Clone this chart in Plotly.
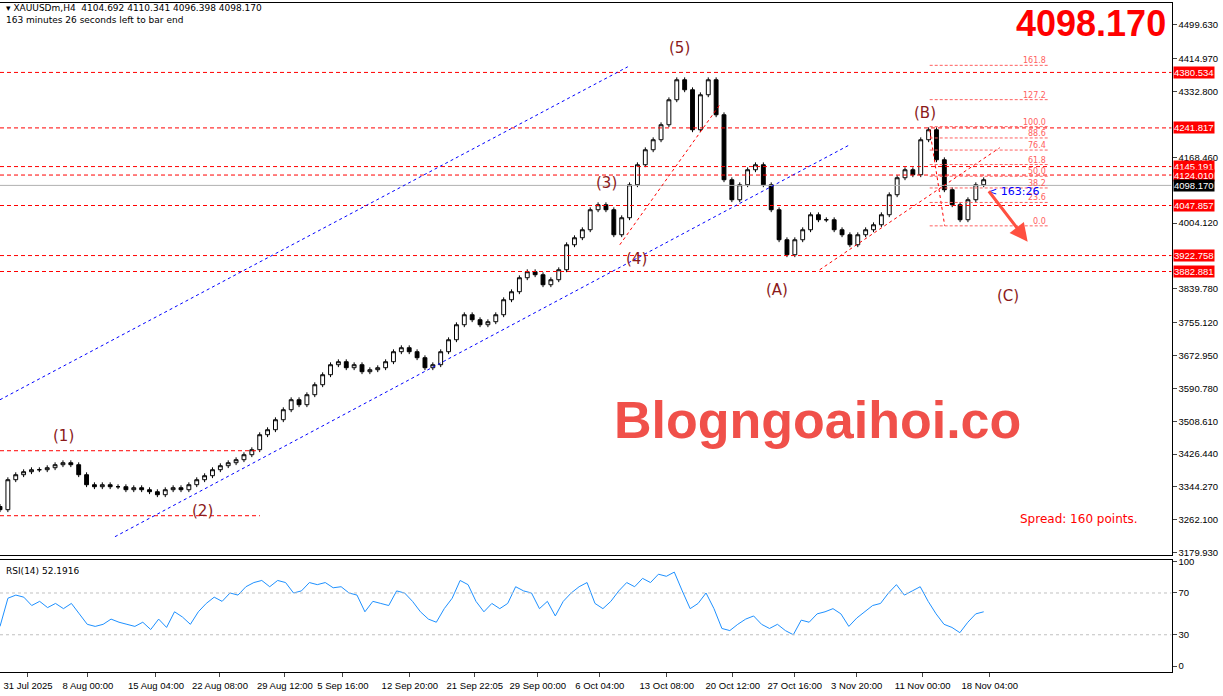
import plotly.graph_objects as go

# price path (close values)
closes_px_y = [510,480,475,472,470,470,468,465,463,465,475,485,487,485,487,487,490,488,490,492,495,490,488,490,485,480,476,470,466,463,460,455,450,435,430,420,410,400,405,395,385,375,365,362,368,365,372,370,368,362,352,348,352,358,368,365,352,340,325,315,320,325,322,315,300,292,278,272,275,285,280,270,245,238,230,210,205,210,235,218,185,165,150,140,125,100,80,90,130,95,80,115,180,200,185,170,165,185,210,240,255,240,230,215,220,220,230,235,245,235,230,225,215,195,178,170,175,140,130,160,190,205,220,200,185,180]
rsi = [38,65,68,66,58,62,56,60,55,60,50,40,38,40,45,42,40,38,42,35,45,37,52,47,40,52,60,66,62,70,68,76,80,82,76,82,80,70,72,80,78,80,75,76,70,68,52,62,60,58,72,70,62,52,45,42,55,65,82,78,62,52,60,55,60,76,72,70,55,62,48,62,70,76,80,60,55,62,72,80,76,84,80,88,86,90,72,55,60,70,55,36,34,40,45,48,40,36,40,34,30,44,42,50,52,55,50,38,46,52,58,60,70,78,68,72,76,62,50,40,37,32,42,50,52]
date_labels = ["31 Jul 2025","8 Aug 00:00","15 Aug 04:00","22 Aug 08:00","29 Aug 12:00","5 Sep 16:00","12 Sep 20:00","21 Sep 22:05","29 Sep 00:00","6 Oct 04:00","13 Oct 08:00","20 Oct 12:00","27 Oct 16:00","3 Nov 20:00","11 Nov 00:00","18 Nov 04:00"]
date_pos = [28,88,156,220,285,343,410,475,538,600,667,733,795,857,923,990]
level_lines = [4380.534,4241.817,4145.191,4124.010,4047.857,3922.758,3882.881]
current_price = 4098.170
price_ticks = [4499.630,4414.970,4332.800,4168.460,4004.120,3839.780,3755.120,3672.950,3590.780,3508.610,3426.440,3344.270,3262.100,3179.930]
fib_levels = [0.0,23.6,38.2,50.0,61.8,76.4,88.6,100.0,127.2,161.8]
fib_low, fib_high = 3997.0, 4245.0
waves = [("(1)",64,436),("(2)",203,511),("(3)",607,183),("(4)",637,259),("(5)",680,48),("(A)",777,290),("(B)",925,113),("(C)",1008,296)]

def p(y):
    return 4499.63 - (y - 25) * 2.4994

closes = [p(y) for y in closes_px_y]
n = len(closes)
xs = [i * 984 / (n - 1) for i in range(n)]
opens = [closes[0] + 8] + closes[:-1]
highs = [max(o, c) + 6 for o, c in zip(opens, closes)]
lows = [min(o, c) - 6 for o, c in zip(opens, closes)]
rx = [i * 984 / (len(rsi) - 1) for i in range(len(rsi))]

fig = go.Figure()
fig.add_trace(go.Candlestick(x=xs, open=opens, high=highs, low=lows, close=closes,
    increasing=dict(line=dict(color="black", width=1), fillcolor="white"),
    decreasing=dict(line=dict(color="black", width=1), fillcolor="black"),
    whiskerwidth=0, showlegend=False, xaxis="x", yaxis="y"))
fig.add_trace(go.Scatter(x=rx, y=rsi, mode="lines", line=dict(color="#1E90FF", width=1),
    showlegend=False, xaxis="x2", yaxis="y2"))

shapes = []
RED = "#FF0000"
DASH = "4px,3px"
for lv in level_lines:
    shapes.append(dict(type="line", xref="x", yref="y", x0=0, x1=1172, y0=lv, y1=lv,
                       line=dict(color=RED, width=1, dash=DASH)))
shapes.append(dict(type="line", xref="x", yref="y", x0=0, x1=1172, y0=current_price, y1=current_price,
                   line=dict(color="#B0B0B0", width=1)))
for y in (451, 516):
    shapes.append(dict(type="line", xref="x", yref="y", x0=0, x1=260, y0=p(y), y1=p(y),
                       line=dict(color=RED, width=1, dash=DASH)))
shapes.append(dict(type="line", xref="x", yref="y", x0=0, y0=p(400), x1=628, y1=p(67), line=dict(color="blue", width=1, dash="dot")))
shapes.append(dict(type="line", xref="x", yref="y", x0=115, y0=p(537), x1=850, y1=p(145), line=dict(color="blue", width=1, dash="dot")))
shapes.append(dict(type="line", xref="x", yref="y", x0=620, y0=p(245), x1=720, y1=p(105), line=dict(color=RED, width=1, dash="dot")))
shapes.append(dict(type="line", xref="x", yref="y", x0=820, y0=p(270), x1=1000, y1=p(148), line=dict(color=RED, width=1, dash="dot")))
shapes.append(dict(type="line", xref="x", yref="y", x0=930, y0=p(130), x1=945, y1=p(226), line=dict(color=RED, width=1, dash="dot")))
annotations = []
for f in fib_levels:
    v = fib_low + (fib_high - fib_low) * f / 100
    shapes.append(dict(type="line", xref="x", yref="y", x0=930, x1=1048, y0=v, y1=v,
                       line=dict(color="#FF6060", width=1, dash="3px,2px")))
    annotations.append(dict(x=1048, y=v, xref="x", yref="y", text="%.1f" % f, showarrow=False,
                            xanchor="right", yanchor="bottom", yshift=-2, font=dict(size=8, color="#FF6060", family="DejaVu Sans")))
for lv in (70, 30):
    shapes.append(dict(type="line", xref="x2", yref="y2", x0=0, x1=1172, y0=lv, y1=lv,
                       line=dict(color="#C0C0C0", width=1, dash="dot")))

for t, x, y in waves:
    annotations.append(dict(x=x, y=p(y), xref="x", yref="y", text=t, showarrow=False,
                            font=dict(size=15, color="#8B1A1A", family="DejaVu Sans")))
for lv in level_lines:
    annotations.append(dict(x=0.9595, y=lv, xref="paper", yref="y", text="%.3f" % lv, showarrow=False,
                            xanchor="left", bgcolor=RED, font=dict(size=9.5, color="white", family="Liberation Sans"), borderpad=0))
annotations.append(dict(x=0.9595, y=current_price, xref="paper", yref="y", text="%.3f" % current_price, showarrow=False,
                        xanchor="left", bgcolor="black", font=dict(size=9.5, color="white", family="Liberation Sans"), borderpad=0))
annotations += [
    dict(x=0.003, y=0.998, xref="paper", yref="paper", text="▾ XAUUSDm,H4  4104.692 4110.341 4096.398 4098.170<br>163 minutes 26 seconds left to bar end",
         showarrow=False, xanchor="left", yanchor="top", align="left", font=dict(size=9, color="black", family="DejaVu Sans")),
    dict(x=0.955, y=0.998, xref="paper", yref="paper", text="<b>4098.170</b>", showarrow=False, xanchor="right", yanchor="top",
         font=dict(size=36, color=RED, family="Liberation Sans")),
    dict(x=818, y=p(420), xref="x", yref="y", text="<b>Blogngoaihoi.co</b>", showarrow=False,
         font=dict(size=52, color="#F0504A", family="Liberation Sans")),
    dict(x=1140, y=p(519), xref="x", yref="y", text="Spread: 160 points.", showarrow=False, xanchor="right",
         font=dict(size=12, color=RED, family="DejaVu Sans")),
    dict(x=986, y=p(192), xref="x", yref="y", text="&lt; 163:26", showarrow=False, xanchor="left",
         font=dict(size=11, color="blue", family="DejaVu Sans")),
    dict(x=1028, y=p(242), ax=988, ay=p(190), xref="x", yref="y", axref="x", ayref="y", text="", showarrow=True,
         arrowhead=2, arrowsize=1.2, arrowwidth=3, arrowcolor="#FF5040"),
    dict(x=0.003, y=0.19, xref="paper", yref="paper", text="RSI(14) 52.1916", showarrow=False, xanchor="left", yanchor="top",
         font=dict(size=9, color="black", family="DejaVu Sans")),
]

tf = dict(size=9.5, family="Liberation Sans", color="black")
fig.update_layout(
    width=1223, height=696, margin=dict(l=0, r=0, t=0, b=0, autoexpand=False),
    plot_bgcolor="white", paper_bgcolor="white", shapes=shapes, annotations=annotations,
    xaxis=dict(domain=[0, 0.958], range=[0, 1172], showgrid=False, showticklabels=False, rangeslider=dict(visible=False),
               showline=True, mirror=True, linecolor="black", zeroline=False),
    yaxis=dict(domain=[0.203, 0.996], range=[p(555), p(3)], side="right", tickvals=price_ticks,
               ticktext=["%.3f" % v for v in price_ticks], ticks="outside", ticklen=4, showgrid=False,
               showline=True, mirror=True, linecolor="black", tickfont=tf),
    xaxis2=dict(domain=[0, 0.958], range=[0, 1172], anchor="y2", tickvals=date_pos, ticktext=date_labels, ticks="outside",
                ticklen=4, tickangle=0, showgrid=False, showline=True, mirror=True, linecolor="black", zeroline=False,
                tickfont=tf),
    yaxis2=dict(domain=[0.034, 0.196], range=[-6, 102], side="right", anchor="x2", tickvals=[0, 30, 70, 100],
                ticks="outside", ticklen=4, showgrid=False, showline=True, mirror=True, linecolor="black", zeroline=False,
                tickfont=tf),
)
fig.write_html("out.html", config={"displayModeBar": False},
               post_script="document.body.style.margin='0';document.body.style.overflow='hidden';")
